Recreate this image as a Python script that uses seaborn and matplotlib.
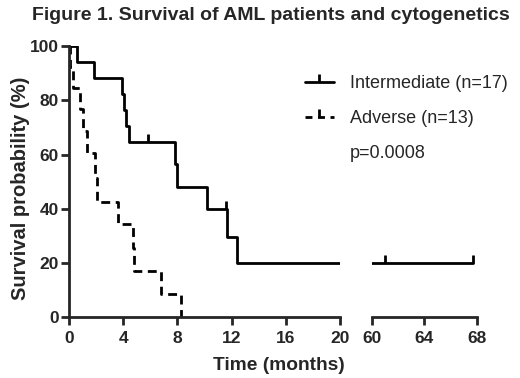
import seaborn as sns
import pandas as pd
import matplotlib.pyplot as plt
from matplotlib.lines import Line2D

# Kaplan-Meier step values (time in months, survival in %)
inter_time = [0, 0.6, 1.85, 3.9, 4.05, 4.2, 4.4, 7.8, 7.95, 10.2, 11.7, 12.4, 67.7]
inter_surv = [100, 94.1, 88.2, 82.4, 76.5, 70.6, 64.7, 56.5, 48.0, 40.0, 29.6, 20.0, 20.0]
inter_cens_time = [5.8, 11.6, 61.0, 67.7]
inter_cens_surv = [64.7, 40.0, 20.0, 20.0]

adv_time = [0, 0.1, 0.3, 0.8, 1.0, 1.3, 1.9, 2.05, 3.6, 4.7, 4.8, 6.8, 8.3]
adv_surv = [100, 92.3, 84.6, 76.9, 68.5, 60.5, 51.5, 42.3, 34.4, 25.5, 17.2, 8.5, 0]

left_ticks = [0, 4, 8, 12, 16, 20]
right_ticks = [60, 64, 68]
y_ticks = [0, 20, 40, 60, 80, 100]

inter_df = pd.DataFrame({'time': inter_time, 'surv': inter_surv})
adv_df = pd.DataFrame({'time': adv_time, 'surv': adv_surv})

sns.set_style('ticks')
plt.rcParams['font.family'] = ['Liberation Sans', 'DejaVu Sans']

fig = plt.figure(figsize=(5.2, 3.78), dpi=100)
ax1 = fig.add_axes([0.1327, 0.161, 0.521, 0.717])
ax2 = fig.add_axes([0.715, 0.161, 0.202, 0.717])

lw = 2.0
for ax in (ax1, ax2):
    sns.lineplot(data=inter_df, x='time', y='surv', ax=ax, color='black',
                 linewidth=lw, drawstyle='steps-post', estimator=None, sort=False)
    sns.lineplot(data=adv_df, x='time', y='surv', ax=ax, color='black',
                 linewidth=lw, drawstyle='steps-post', estimator=None, sort=False,
                 linestyle=(0, (3.2, 2.0)))
    ax.plot(inter_cens_time, inter_cens_surv, linestyle='none', marker=2,
            markersize=6, markeredgewidth=lw, color='black')
    ax.set_ylim(0, 100)
    ax.set_xlabel('')
    ax.set_ylabel('')
    for s in ('top', 'right'):
        ax.spines[s].set_visible(False)
    ax.spines['bottom'].set_linewidth(lw)
    ax.spines['left'].set_linewidth(lw)
    ax.tick_params(axis='both', which='major', length=6, width=lw,
                   labelsize=12.5, direction='out')
    ax.tick_params(axis='x', which='major', pad=4)
    ax.tick_params(axis='y', which='major', pad=1.5)
    ax.tick_params(axis='x', which='minor', length=5, width=lw, direction='in')

ax1.set_xlim(0, 20)
ax1.set_xticks(left_ticks)
ax1.set_xticks([20], minor=True)
ax1.set_yticks(y_ticks)
for lab in ax1.get_xticklabels() + ax1.get_yticklabels():
    lab.set_fontweight('bold')
ax1.set_ylabel('Survival probability (%)', fontsize=14.5, fontweight='bold')
ax1.yaxis.set_label_coords(-0.145, 0.475)

ax2.set_xlim(60, 68)
ax2.set_xticks(right_ticks)
ax2.set_xticks([60, 68], minor=True)
for lab in ax2.get_xticklabels():
    lab.set_fontweight('bold')
ax2.spines['left'].set_visible(False)
ax2.set_yticks([])

fig.text(0.537, 0.032, 'Time (months)', ha='center', va='center',
         fontsize=13.8, fontweight='bold')
fig.text(0.521, 0.958, 'Figure 1. Survival of AML patients and cytogenetics',
         ha='center', va='center', fontsize=14, fontweight='bold')

handles = [
    Line2D([], [], color='black', linewidth=lw, marker=2, markersize=6,
           markeredgewidth=lw),
    Line2D([], [], color='black', linewidth=lw, linestyle=(0, (2.5, 2.0)),
           marker=2, markersize=6, markeredgewidth=lw),
    Line2D([], [], linestyle='none'),
]
labels = ['Intermediate (n=17)', 'Adverse (n=13)', 'p=0.0008']
fig.legend(handles, labels, loc='upper left', bbox_to_anchor=(0.572, 0.82),
           frameon=False, fontsize=13.0, handlelength=1.6, handletextpad=0.9,
           labelspacing=1.0, numpoints=1, borderaxespad=0)

fig.savefig('out.png', dpi=100)
